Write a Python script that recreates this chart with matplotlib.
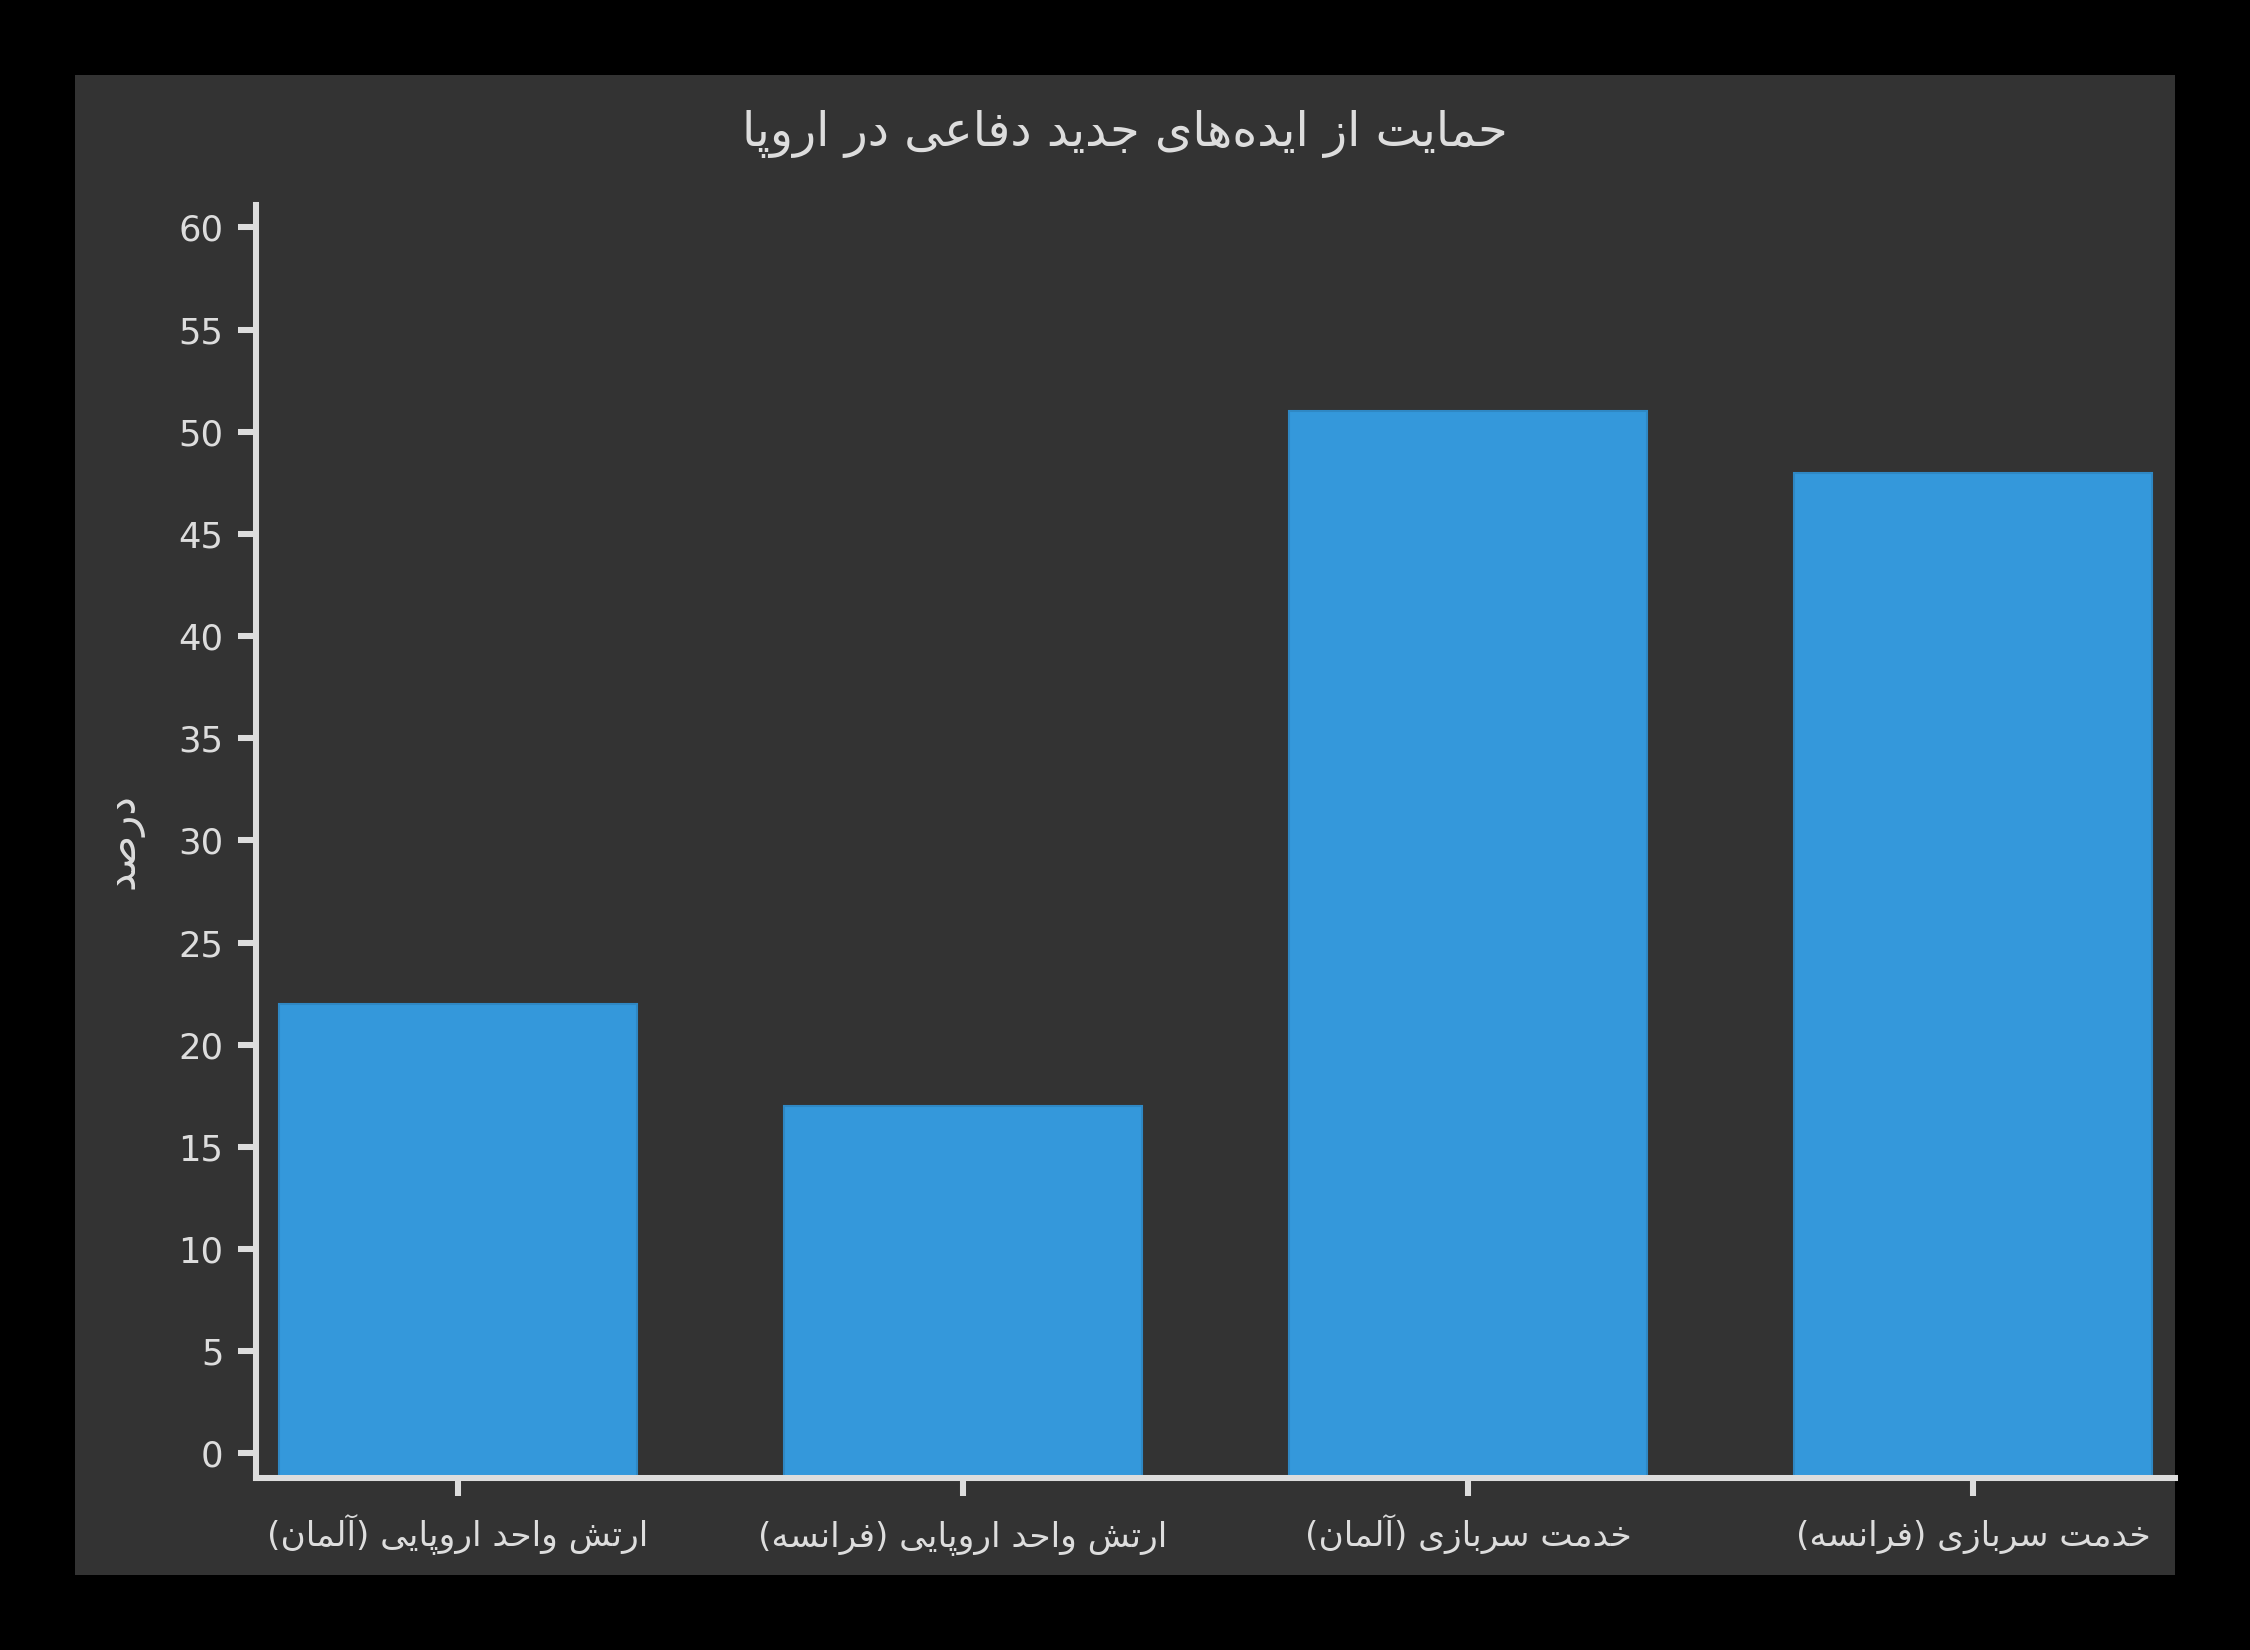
import matplotlib
matplotlib.use('Agg')
import matplotlib.pyplot as plt
from matplotlib.patches import Rectangle

categories = ["ارتش واحد اروپایی (آلمان)", "ارتش واحد اروپایی (فرانسه)",
              "خدمت سربازی (آلمان)", "خدمت سربازی (فرانسه)"]
values = [22, 17, 51, 48]
yticks = list(range(0, 61, 5))
title = "حمایت از ایده‌های جدید دفاعی در اروپا"
ylabel = "درصد"

FORMS = {
    '\u0627': ('\uFE8D', '\uFE8E', None, None),
    '\u0622': ('\uFE81', '\uFE82', None, None),
    '\u0628': ('\uFE8F', '\uFE90', '\uFE91', '\uFE92'),
    '\u067E': ('\uFB56', '\uFB57', '\uFB58', '\uFB59'),
    '\u062A': ('\uFE95', '\uFE96', '\uFE97', '\uFE98'),
    '\u062C': ('\uFE9D', '\uFE9E', '\uFE9F', '\uFEA0'),
    '\u062D': ('\uFEA1', '\uFEA2', '\uFEA3', '\uFEA4'),
    '\u062E': ('\uFEA5', '\uFEA6', '\uFEA7', '\uFEA8'),
    '\u062F': ('\uFEA9', '\uFEAA', None, None),
    '\u0631': ('\uFEAD', '\uFEAE', None, None),
    '\u0632': ('\uFEAF', '\uFEB0', None, None),
    '\u0633': ('\uFEB1', '\uFEB2', '\uFEB3', '\uFEB4'),
    '\u0634': ('\uFEB5', '\uFEB6', '\uFEB7', '\uFEB8'),
    '\u0635': ('\uFEB9', '\uFEBA', '\uFEBB', '\uFEBC'),
    '\u0639': ('\uFEC9', '\uFECA', '\uFECB', '\uFECC'),
    '\u0641': ('\uFED1', '\uFED2', '\uFED3', '\uFED4'),
    '\u0644': ('\uFEDD', '\uFEDE', '\uFEDF', '\uFEE0'),
    '\u0645': ('\uFEE1', '\uFEE2', '\uFEE3', '\uFEE4'),
    '\u0646': ('\uFEE5', '\uFEE6', '\uFEE7', '\uFEE8'),
    '\u0647': ('\uFEE9', '\uFEEA', '\uFEEB', '\uFEEC'),
    '\u0648': ('\uFEED', '\uFEEE', None, None),
    '\u06CC': ('\uFBFC', '\uFBFD', '\uFBFE', '\uFBFF'),
    '\u064A': ('\uFBFC', '\uFBFD', '\uFBFE', '\uFBFF'),
}
MIRROR = {'(': ')', ')': '('}


def shape(s):
    out = []
    n = len(s)
    for i, c in enumerate(s):
        if c == '\u200c':
            continue
        if c not in FORMS:
            out.append(MIRROR.get(c, c))
            continue
        f = FORMS[c]
        prev = s[i - 1] if i > 0 else None
        nxt = s[i + 1] if i < n - 1 else None
        jp = prev in FORMS and FORMS[prev][2] is not None
        jn = f[2] is not None and nxt in FORMS
        if jp and jn:
            g = f[3]
        elif jp:
            g = f[1]
        elif jn:
            g = f[2]
        else:
            g = f[0]
        out.append(g)
    return ''.join(reversed(out))


W, H = 2250, 1650
TXT = '#dddddd'
plt.rcParams['font.family'] = ['DejaVu Sans']

fig = plt.figure(figsize=(15, 11), dpi=150, facecolor='black')
fig.add_artist(Rectangle((75 / W, 75 / H), 2100 / W, 1500 / H,
                         transform=fig.transFigure, facecolor='#333333',
                         edgecolor='none', zorder=0))

ax = fig.add_axes([256 / W, 1 - 1478 / H, (2175 - 256) / W, (1478 - 205) / H])
ax.set_facecolor('#333333')

y0 = -1.2
x = list(range(len(categories)))
ax.bar(x, [v - y0 for v in values], bottom=y0, width=0.71,
       color='#3498db', edgecolor='#2f88c4', linewidth=1.0, zorder=2)

ax.set_xlim(-0.4, 3.4)
ax.set_ylim(y0, 61.1)
ax.set_yticks(yticks)
ax.set_xticks(x)
ax.set_xticklabels([shape(c) for c in categories], fontsize=16.5)
ax.tick_params(axis='y', labelsize=17, pad=7)
ax.tick_params(axis='x', pad=24)
ax.tick_params(colors=TXT, length=8.6, width=2.9)
for lab in ax.get_xticklabels():
    lab.set_verticalalignment('baseline')
for sp in ('top', 'right'):
    ax.spines[sp].set_visible(False)
for sp in ('left', 'bottom'):
    ax.spines[sp].set_color(TXT)
    ax.spines[sp].set_linewidth(2.9)

fig.text(0.5, 1 - 134 / H, shape(title), ha='center', va='center',
         fontsize=23, color=TXT)
fig.text(122 / W, 1 - 841 / H, shape(ylabel), ha='center', va='center',
         rotation=90, fontsize=20, color=TXT)

fig.savefig('out.png', dpi=150, facecolor='black')
